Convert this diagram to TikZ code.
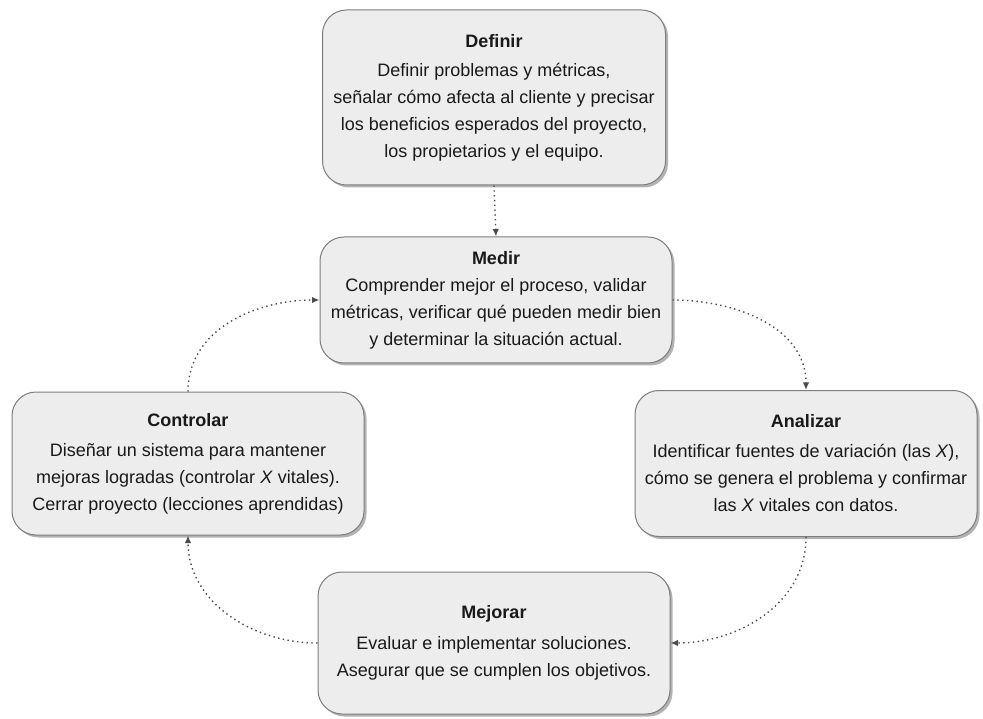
\documentclass[tikz,border=0pt]{standalone}
\usepackage{fontspec}
\setmainfont{Liberation Sans}
\usetikzlibrary{arrows.meta,shadows}
\definecolor{boxfill}{RGB}{237,237,237}
\definecolor{boxline}{RGB}{125,125,125}
\definecolor{flowgray}{RGB}{75,75,75}

\begin{document}
\begin{tikzpicture}[x=1pt, y=-1pt,
    every node/.style={font=\fontsize{18}{27}\selectfont, text=black!90},
    phase/.style={draw=boxline, fill=boxfill, line width=1pt, rounded corners=24pt,
      align=center, inner sep=0pt,
      drop shadow={shadow xshift=2.5pt, shadow yshift=-2.5pt, fill=black!50, opacity=0.6}},
    flow/.style={flowgray, line width=1.4pt, dash pattern=on 1.4pt off 3.4pt,
      -{Latex[length=7.5pt,width=6.5pt]}}]
        \useasboundingbox (0,0) rectangle (983,719);
        % phases
        \node[phase, minimum width=343pt, minimum height=175pt] (definir) at (494,97.5)
          {\textbf{Definir}\\[2pt] Definir problemas y métricas,\\
           señalar cómo afecta al cliente y precisar\\
           los beneficios esperados del proyecto,\\ los propietarios y el equipo.};
        \node[phase, minimum width=352pt, minimum height=126pt] (medir) at (496,300)
          {\textbf{Medir}\\[0pt] Comprender mejor el proceso, validar\\
           métricas, verificar qué pueden medir bien\\ y determinar la situación actual.};
        \node[phase, minimum width=352pt, minimum height=143pt] (controlar) at (188,463.5)
          {\textbf{Controlar}\\[3pt] Diseñar un sistema para mantener\\
           mejoras logradas (controlar \textit{X} vitales).\\
           Cerrar proyecto (lecciones aprendidas)};
        \node[phase, minimum width=342pt, minimum height=146pt] (analizar) at (806,463.5)
          {\textbf{Analizar}\\[3pt] Identificar fuentes de variación (las \textit{X}),\\
           cómo se genera el problema y confirmar\\ las \textit{X} vitales con datos.};
        \node[phase, minimum width=352pt, minimum height=142pt] (mejorar) at (494,643)
          {\textbf{Mejorar}\\[4pt] Evaluar e implementar soluciones.\\
           Asegurar que se cumplen los objetivos.};
        % cycle
        \draw[flow] (definir.south) -- (medir.north);
        \draw[flow] (medir.east) to[out=0,in=90] (analizar.north);
        \draw[flow] (analizar.south) to[out=-90,in=0] (mejorar.east);
        \draw[flow] (mejorar.west) to[out=180,in=-90] (controlar.south);
        \draw[flow] (controlar.north) to[out=90,in=180] (medir.west);
      \end{tikzpicture}
\end{document}
